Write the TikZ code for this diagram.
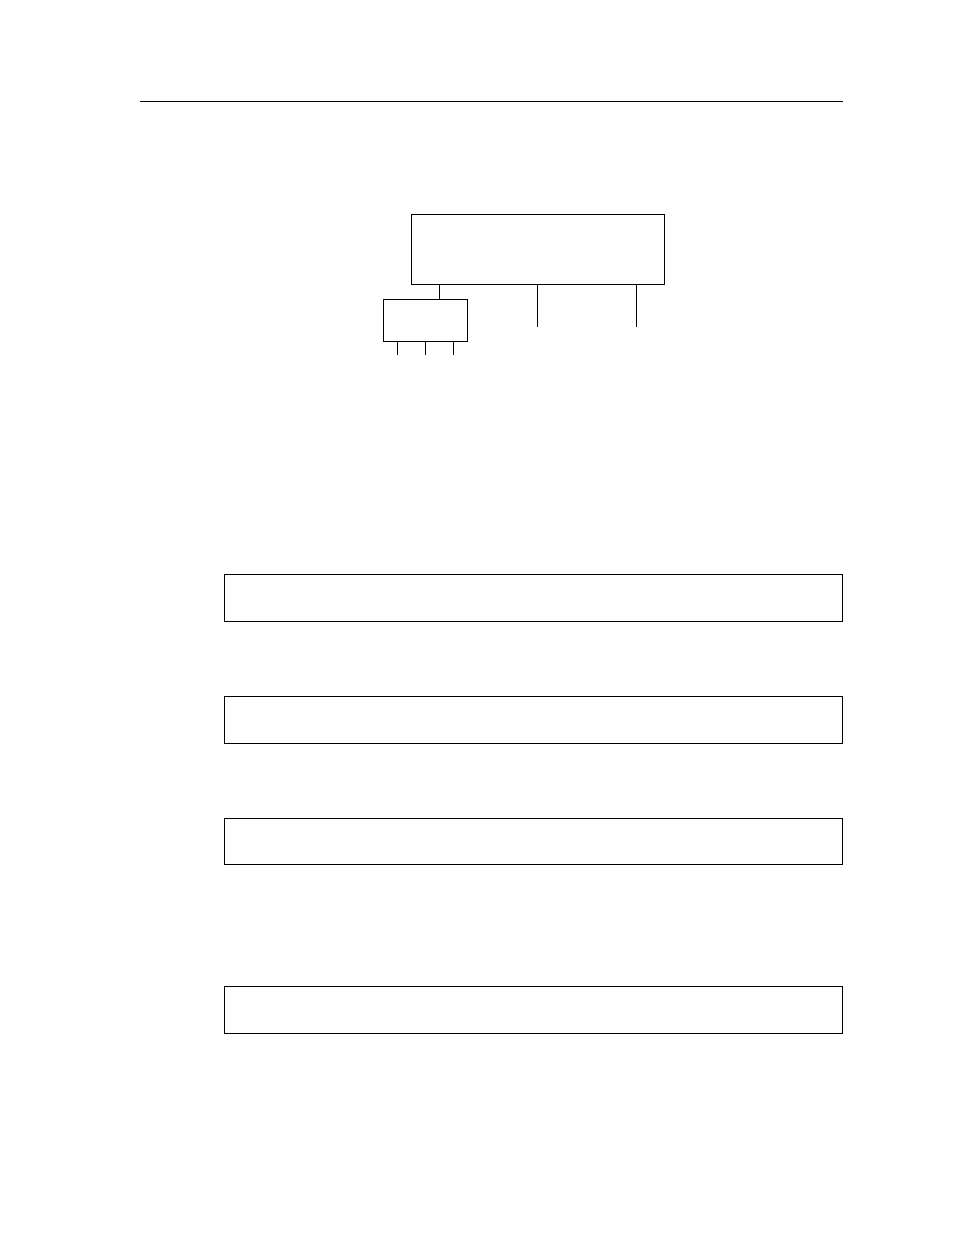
\documentclass[tikz,border=0pt]{standalone}
\begin{document}
\begin{tikzpicture}[x=1pt,y=-1pt,line width=0.9pt,
  blk/.style={draw,inner sep=0pt,outer sep=0pt,anchor=north west}]
\useasboundingbox (0,0) rectangle (954,1235);
\coordinate (ruleL) at (140,101);
\coordinate (ruleR) at (843,101);
\draw (ruleL) -- (ruleR);
% top diagram
\node[blk,minimum width=253pt,minimum height=70pt] (big) at (411,214) {};
\node[blk,minimum width=84pt,minimum height=42pt] (small) at (383,299) {};
\coordinate (eB) at (537,327);
\coordinate (eC) at (636,327);
\coordinate (e1) at (397,355);
\coordinate (e2) at (425,355);
\coordinate (e3) at (453,355);
\draw (small.north -| 439,0) -- (big.south -| 439,0);
\draw (eB |- big.south) -- (eB);
\draw (eC |- big.south) -- (eC);
\draw (e1 |- small.south) -- (e1);
\draw (e2 |- small.south) -- (e2);
\draw (e3 |- small.south) -- (e3);
% long boxes
\node[blk,minimum width=618pt,minimum height=47pt] (box1) at (224,574) {};
\node[blk,minimum width=618pt,minimum height=47pt] (box2) at (224,696) {};
\node[blk,minimum width=618pt,minimum height=46pt] (box3) at (224,818) {};
\node[blk,minimum width=618pt,minimum height=47pt] (box4) at (224,986) {};
\end{tikzpicture}
\end{document}
